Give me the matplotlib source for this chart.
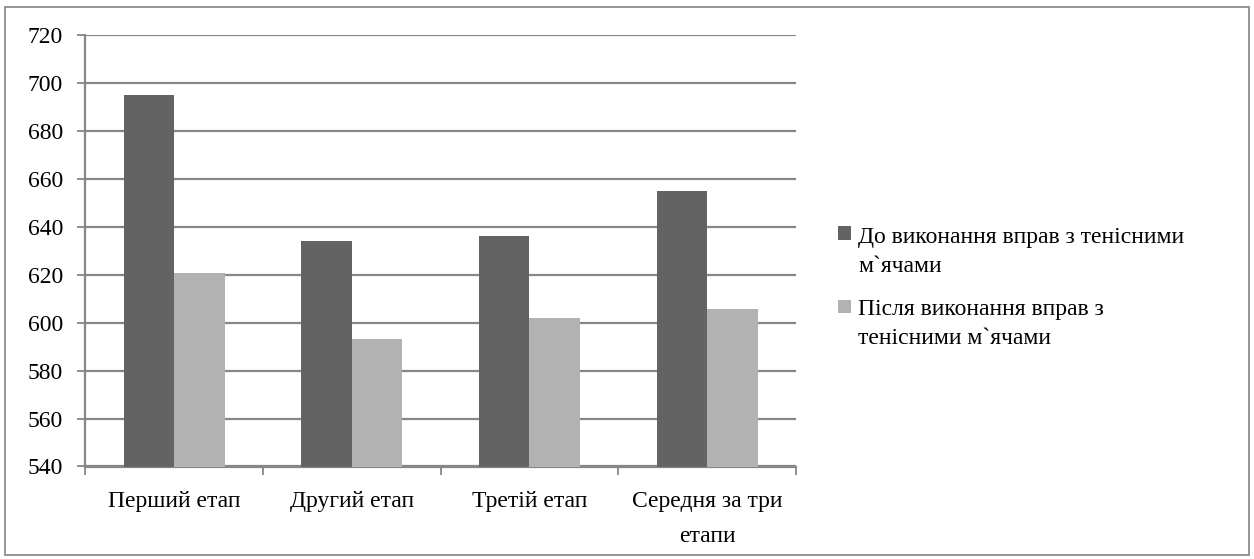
import matplotlib
matplotlib.use("Agg")
import matplotlib.pyplot as plt
from matplotlib.patches import Rectangle
import numpy as np

categories = ["Перший етап", "Другий етап", "Третій етап", "Середня за три\nетапи"]
before_values = [695, 634, 636, 655]
after_values = [620.5, 593, 602, 605.5]
series_labels = ["До виконання вправ з тенісними\nм`ячами",
                 "Після виконання вправ з\nтенісними м`ячами"]
series_colors = ["#636363", "#b2b2b2"]
y_ticks = list(range(540, 721, 20))

plt.rcParams["font.family"] = ["Liberation Serif", "DejaVu Serif"]
FS = 17
GRID = "#878787"

W, H = 1254, 559
fig = plt.figure(figsize=(W / 100, H / 100), dpi=100)
fig.patch.set_facecolor("white")

# outer chart frame
fig.patches.append(Rectangle((5 / W, 1 - 555 / H), 1244 / W, 548 / H,
                             transform=fig.transFigure, fill=False,
                             edgecolor="#8c8c8c", linewidth=1.3))

ax = fig.add_axes([85.3 / W, 1 - 466.5 / H, (796 - 85.3) / W, (466.5 - 34.7) / H])
x = np.arange(len(categories))
bw = 0.285
ax.bar(x - bw / 2, before_values, width=bw, color=series_colors[0], zorder=3)
ax.bar(x + bw / 2, after_values, width=bw, color=series_colors[1], zorder=3)

ax.set_ylim(540, 720)
ax.set_xlim(-0.5, len(categories) - 0.5)
ax.set_yticks(y_ticks)
ax.set_yticklabels([str(v) for v in y_ticks], fontsize=FS)
ax.yaxis.grid(True, color=GRID, linewidth=1.6, zorder=0)
ax.set_axisbelow(True)

ax.set_xticks(x)
ax.set_xticklabels(categories, fontsize=FS, linespacing=1.85)
ax.set_xticks(np.arange(len(categories) + 1) - 0.5, minor=True)
ax.tick_params(axis="x", which="major", length=0, pad=18)
ax.tick_params(axis="x", which="minor", length=6, width=1.3, color=GRID, direction="out")
ax.tick_params(axis="y", length=6, width=1.3, color=GRID, pad=10)

for side in ["top", "right"]:
    ax.spines[side].set_visible(False)
for side in ["left", "bottom"]:
    ax.spines[side].set_color(GRID)
    ax.spines[side].set_linewidth(1.6)

# legend: a square per series followed by its wrapped label
legend_rows = [(226.5, 243), (299.5, 315)]
line_step = 29
for (sq_top, base), lab, col in zip(legend_rows, series_labels, series_colors):
    fig.patches.append(Rectangle((838 / W, 1 - (sq_top + 13) / H), 13 / W, 13 / H,
                                 transform=fig.transFigure, facecolor=col,
                                 edgecolor="none"))
    for i, line in enumerate(lab.split("\n")):
        fig.text(858 / W, 1 - (base + i * line_step) / H, line, fontsize=FS,
                 ha="left", va="baseline")

fig.savefig("out.png", dpi=100)
